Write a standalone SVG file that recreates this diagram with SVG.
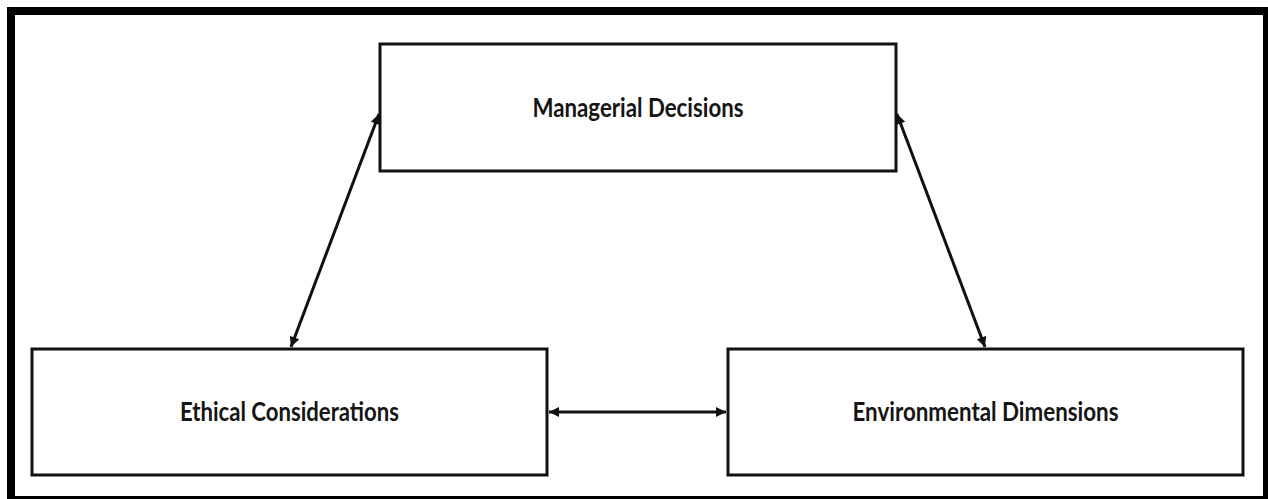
<svg xmlns="http://www.w3.org/2000/svg" width="1268" height="499" viewBox="0 0 1268 499">
  <style>
    .box { fill: #ffffff; stroke: #111111; stroke-width: 3; }
    .lbl { font-family: Lato, "Open Sans", "Liberation Sans", sans-serif; font-weight: bold; font-size: 27px; fill: #151515; text-anchor: middle; }
    .conn { stroke: #111111; stroke-width: 3; fill: none; marker-start: url(#ah); marker-end: url(#ah); }
  </style>
  <defs>
    <marker id="ah" viewBox="0 0 10 10" refX="10" refY="5" markerWidth="11" markerHeight="10" markerUnits="userSpaceOnUse" orient="auto-start-reverse">
      <path d="M0,0 L10,5 L0,10 z" fill="#111111"/>
    </marker>
  </defs>
  <rect x="0" y="0" width="1268" height="499" fill="#ffffff"/>
  <rect id="frame" x="11" y="11" width="1256" height="489" fill="none" stroke="#000000" stroke-width="8"/>

  <g id="managerial-decisions">
    <rect class="box" x="380" y="44" width="516" height="127"/>
    <text class="lbl" x="638" y="117" textLength="211" lengthAdjust="spacingAndGlyphs">Managerial Decisions</text>
  </g>
  <g id="ethical-considerations">
    <rect class="box" x="32" y="349" width="515" height="126"/>
    <text class="lbl" x="289.5" y="421" textLength="219" lengthAdjust="spacingAndGlyphs">Ethical Considerations</text>
  </g>
  <g id="environmental-dimensions">
    <rect class="box" x="728" y="349" width="515" height="126"/>
    <text class="lbl" x="985.5" y="421" textLength="266" lengthAdjust="spacingAndGlyphs">Environmental Dimensions</text>
  </g>

  <g id="connectors">
    <line class="conn" x1="291" y1="347" x2="379" y2="114"/>
    <line class="conn" x1="897" y1="114" x2="985" y2="347"/>
    <line class="conn" x1="549" y1="412" x2="726" y2="412"/>
  </g>
</svg>
